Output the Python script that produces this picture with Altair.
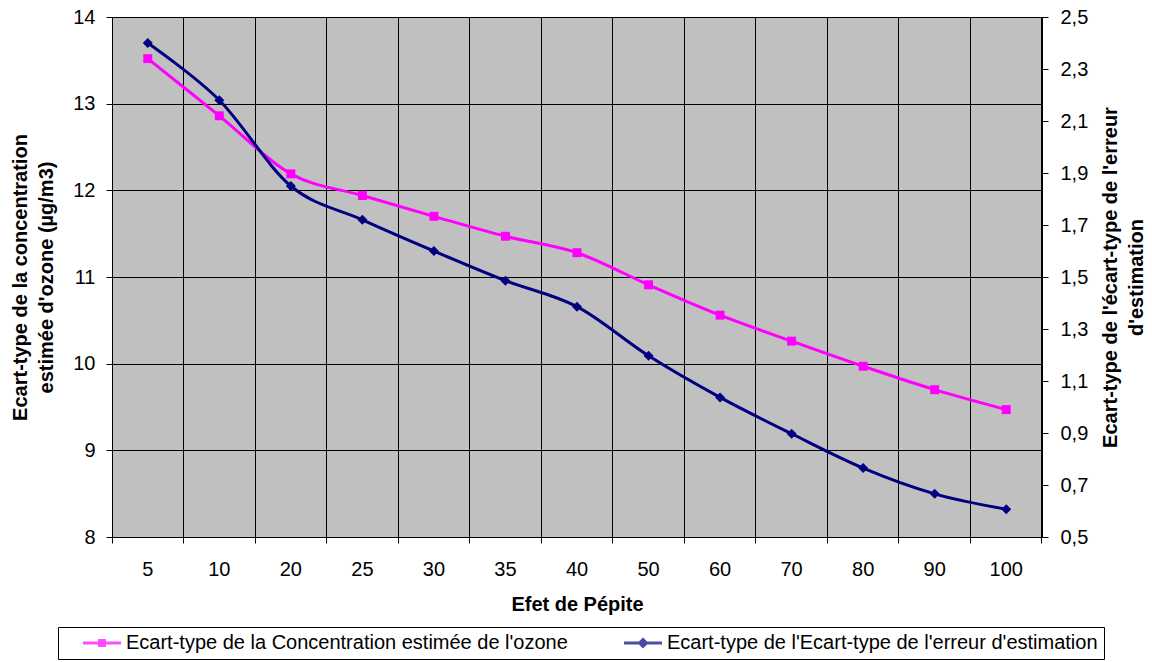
import altair as alt
import pandas as pd

# ---- data ----
categories = ["5", "10", "20", "25", "30", "35", "40", "50", "60", "70", "80", "90", "100"]
concentration = [13.52, 12.86, 12.19, 11.94, 11.70, 11.47, 11.28, 10.91, 10.56, 10.26, 9.97, 9.70, 9.47]
erreur = [2.40, 2.18, 1.85, 1.72, 1.60, 1.486, 1.386, 1.197, 1.037, 0.897, 0.765, 0.666, 0.607]
left_ticks = [8, 9, 10, 11, 12, 13, 14]
right_ticks = [0.5, 0.7, 0.9, 1.1, 1.3, 1.5, 1.7, 1.9, 2.1, 2.3, 2.5]
series_names = [
    "Ecart-type de la Concentration estimée de l'ozone",
    "Ecart-type de l'Ecart-type de l'erreur d'estimation",
]
series_colors = ["#FF00FF", "#000080"]
legend_shapes = [
    "M-2,0M1.8,0H9.4M5.1,-0.5H6.1V0.5H5.1Z",
    "M-2,0M1.8,0H9.4M5.6,-0.7L6.3,0L5.6,0.7L4.9,0Z",
]

FONT = "Liberation Sans"

df1 = pd.DataFrame({"x": categories, "y": concentration, "serie": series_names[0]})
df2 = pd.DataFrame({"x": categories, "y": erreur, "serie": series_names[1]})

xenc = alt.X(
    "x:N",
    sort=categories,
    scale=alt.Scale(type="band", domain=categories, paddingInner=0, paddingOuter=0),
    axis=alt.Axis(
        title="Efet de Pépite",
        labelAngle=0,
        bandPosition=1,
        tickExtra=True,
        grid=True,
        tickSize=6,
        labelPadding=32,
        labelBaseline="alphabetic",
        titleX=465,
        titleY=73,
        titleBaseline="alphabetic",
    ),
)

yleft = alt.Y(
    "y:Q",
    scale=alt.Scale(domain=[8, 14], nice=False, zero=False),
    axis=alt.Axis(
        values=left_ticks,
        orient="left",
        grid=True,
        tickSize=6,
        labelPadding=11,
        title=["Ecart-type de la concentration", "estimée d'ozone (µg/m3)"],
        titleAngle=270,
        titleX=-92,
        titleY=260,
        titleBaseline="middle",
        titleAlign="center",
        titleLineHeight=26,
    ),
)

yright = alt.Y(
    "y:Q",
    scale=alt.Scale(domain=[0.5, 2.5], nice=False, zero=False),
    axis=alt.Axis(
        values=right_ticks,
        orient="right",
        grid=False,
        tickSize=6,
        labelPadding=12,
        labelExpr="replace(format(datum.value, '.1f'), '.', ',')",
        title=["Ecart-type de l'écart-type de l'erreur", "d'estimation"],
        titleAngle=270,
        titleX=68,
        titleY=260,
        titleBaseline="middle",
        titleAlign="center",
        titleLineHeight=26,
    ),
)

pink_line = alt.Chart(df1).mark_line(
    interpolate="cardinal", strokeWidth=3, color=series_colors[0]
).encode(x=xenc, y=yleft)
pink_pts = alt.Chart(df1).mark_point(
    shape="square", filled=True, size=80, opacity=1, color=series_colors[0]
).encode(x=xenc, y=yleft)

nbsp3 = "\u00a0\u00a0\u00a0"
legend = alt.Legend(
    title=None,
    orient="none",
    legendX=-54,
    legendY=610,
    direction="horizontal",
    labelFont=FONT,
    labelFontSize=20,
    labelColor="#000000",
    labelLimit=1000,
    labelOffset=42,
    columnPadding=31,
    padding=6,
    symbolSize=100,
    symbolStrokeWidth=3,
    strokeColor="#000000",
    fillColor="#FFFFFF",
    labelExpr="indexof(datum.label, 'erreur') >= 0 ? datum.label + '" + nbsp3 + "' : datum.label",
)

legend_layer = alt.Chart(df1).transform_filter("false").mark_point(filled=True).encode(
    x=xenc,
    y=yleft,
    fill=alt.Fill("serie:N", scale=alt.Scale(domain=series_names, range=series_colors), legend=legend),
    stroke=alt.Stroke("serie:N", scale=alt.Scale(domain=series_names, range=series_colors), legend=legend),
    shape=alt.Shape("serie:N", scale=alt.Scale(domain=series_names, range=legend_shapes), legend=legend),
)

navy_line = alt.Chart(df2).mark_line(
    interpolate="cardinal", strokeWidth=3, color=series_colors[1]
).encode(x=xenc, y=yright)
navy_pts = alt.Chart(df2).mark_point(
    shape="diamond", filled=True, size=100, opacity=1, color=series_colors[1]
).encode(x=xenc, y=yright)

pink = alt.layer(pink_line, pink_pts, legend_layer)
navy = alt.layer(navy_line, navy_pts)

chart = (
    alt.layer(pink, navy)
    .resolve_scale(y="independent")
    .properties(
        width=930,
        height=520,
        padding={"left": 112, "top": 17, "right": 110, "bottom": 125},
        autosize=alt.AutoSizeParams(type="none"),
        background="#FFFFFF",
    )
    .configure_view(fill="#C0C0C0", stroke="#808080", strokeWidth=1)
    .configure_axis(
        labelFont=FONT,
        labelFontSize=20,
        labelColor="#000000",
        titleFont=FONT,
        titleFontSize=20,
        titleFontWeight="bold",
        titleColor="#000000",
        domainColor="#000000",
        domainWidth=1,
        tickColor="#000000",
        tickWidth=1,
        gridColor="#000000",
        gridWidth=1,
        gridOpacity=1,
    )
)

chart.save("out.html", embed_options={"renderer": "svg", "actions": False})
